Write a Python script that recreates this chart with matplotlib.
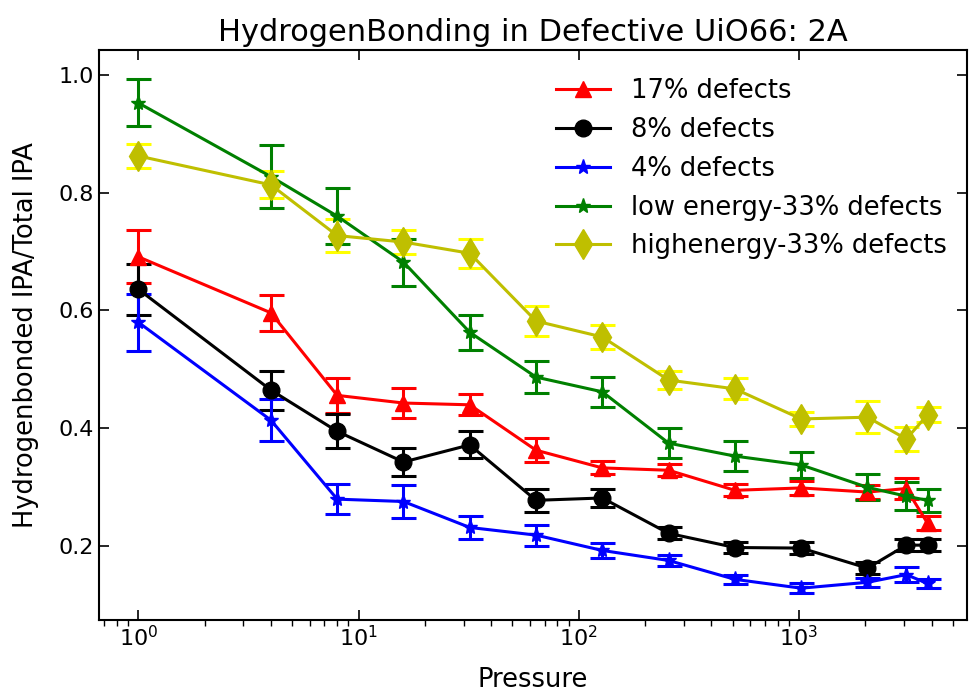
import matplotlib
matplotlib.use('Agg')
import matplotlib.pyplot as plt

pressure = [1, 4, 8, 16, 32, 64, 128, 256, 512, 1024, 2048, 3072, 3840]

d17 = [0.691, 0.596, 0.456, 0.443, 0.440, 0.363, 0.333, 0.329, 0.295, 0.299, 0.292, 0.298, 0.239]
d17_err = [0.045, 0.030, 0.030, 0.025, 0.018, 0.020, 0.011, 0.010, 0.010, 0.012, 0.012, 0.018, 0.012]

d8 = [0.636, 0.465, 0.395, 0.343, 0.372, 0.278, 0.282, 0.222, 0.198, 0.197, 0.163, 0.202, 0.202]
d8_err = [0.043, 0.033, 0.029, 0.023, 0.023, 0.020, 0.015, 0.010, 0.010, 0.010, 0.010, 0.010, 0.010]

d4 = [0.580, 0.414, 0.280, 0.276, 0.232, 0.219, 0.193, 0.176, 0.144, 0.129, 0.139, 0.152, 0.137]
d4_err = [0.048, 0.036, 0.025, 0.028, 0.020, 0.018, 0.012, 0.010, 0.008, 0.008, 0.008, 0.013, 0.007]

low33 = [0.952, 0.827, 0.760, 0.682, 0.563, 0.487, 0.462, 0.375, 0.353, 0.338, 0.300, 0.285, 0.278]
low33_err = [0.040, 0.054, 0.047, 0.040, 0.030, 0.027, 0.025, 0.025, 0.025, 0.022, 0.022, 0.024, 0.020]

high33 = [0.862, 0.813, 0.727, 0.716, 0.697, 0.582, 0.555, 0.482, 0.467, 0.416, 0.419, 0.382, 0.423]
high33_err = [0.020, 0.023, 0.028, 0.020, 0.025, 0.025, 0.020, 0.015, 0.018, 0.012, 0.027, 0.020, 0.013]

series = [
    (d17, d17_err, '17% defects', 'r', 'red', '^', 11),
    (d8, d8_err, '8% defects', 'k', 'black', 'o', 12),
    (d4, d4_err, '4% defects', 'b', 'blue', '*', 11),
    (low33, low33_err, 'low energy-33% defects', 'g', 'green', '*', 11),
    (high33, high33_err, 'highenergy-33% defects', 'y', 'yellow', 'd', 15),
]

fig = plt.figure(figsize=(9.69, 6.92), dpi=100)
ax = fig.add_axes([0.102, 0.104, 0.896, 0.824])

handles = []
labels = []
for vals, errs, label, color, ecolor, marker, ms in series:
    eb = ax.errorbar(pressure, vals, yerr=errs, color=color, ecolor=ecolor,
                     marker=marker, markersize=ms, linewidth=2.2,
                     elinewidth=2.2, capsize=9, capthick=2.2)
    handles.append(eb[0])  # legend shows only line + marker
    labels.append(label)

ax.set_xscale('log')
ax.set_ylim(0.075, 1.042)
ax.set_yticks([0.2, 0.4, 0.6, 0.8, 1.0])
ax.set_xlabel('Pressure', fontsize=18.5, labelpad=12)
ax.set_ylabel('Hydrogenbonded IPA/Total IPA', fontsize=18.5, labelpad=14)
ax.set_title('HydrogenBonding in Defective UiO66: 2A', fontsize=22)

ax.tick_params(which='major', direction='in', top=True, right=True,
               length=7, width=1.2, labelsize=16)
ax.tick_params(which='minor', direction='out', top=False, length=4, width=1)
for sp in ax.spines.values():
    sp.set_linewidth(1.5)

ax.legend(handles, labels, loc='upper right', bbox_to_anchor=(1.009, 1.0),
          frameon=False, fontsize=18.5, handlelength=2.1, borderaxespad=0.7)

plt.savefig('out.png', dpi=100)
